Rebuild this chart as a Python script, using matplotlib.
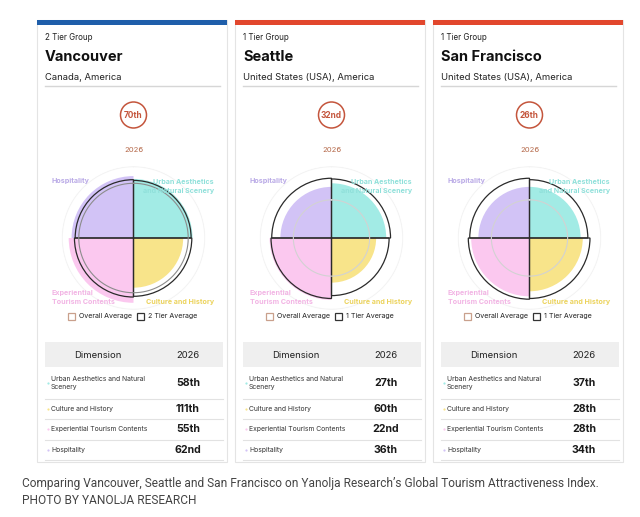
import matplotlib.pyplot as plt
import numpy as np
from matplotlib.patches import Rectangle, Circle

plt.rcParams['font.family'] = ['Inter', 'DejaVu Sans']

# ---- data ----
cities = ['Vancouver', 'Seattle', 'San Francisco']
countries = ['Canada, America', 'United States (USA), America', 'United States (USA), America']
tier_groups = ['2 Tier Group', '1 Tier Group', '1 Tier Group']
tier_avg_labels = ['2 Tier Average', '1 Tier Average', '1 Tier Average']
overall_ranks = ['70th', '32nd', '26th']
year = '2026'

dimensions = ['Urban Aesthetics and Natural Scenery', 'Culture and History',
              'Experiential Tourism Contents', 'Hospitality']
chart_labels = ['Urban Aesthetics\nand Natural Scenery', 'Culture and History',
                'Experiential\nTourism Contents', 'Hospitality']
table_labels = ['Urban Aesthetics and Natural\nScenery', 'Culture and History',
                'Experiential Tourism Contents', 'Hospitality']

# scores (0-100 scale)
vancouver_scores = [82, 69, 90, 86]
seattle_scores = [76, 62, 86, 71]
sanfrancisco_scores = [71, 74, 81, 71]
vancouver_tier_avg = [80, 81, 82, 81]
seattle_tier_avg = [82, 80, 84, 83]
sanfrancisco_tier_avg = [81, 84, 85, 83]
overall_avg = [76, 53, 53]

vancouver_ranks = ['58th', '111th', '55th', '62nd']
seattle_ranks = ['27th', '60th', '22nd', '36th']
sanfrancisco_ranks = ['37th', '28th', '28th', '34th']

scores = [vancouver_scores, seattle_scores, sanfrancisco_scores]
tier_avgs = [vancouver_tier_avg, seattle_tier_avg, sanfrancisco_tier_avg]
ranks = [vancouver_ranks, seattle_ranks, sanfrancisco_ranks]

# ---- style ----
fills = ['#a2ebe5', '#f8e48a', '#fbc8ef', '#d2c3f6']
label_colors = ['#8fe0da', '#ecd35c', '#f2b4e4', '#b9a9e6']
bar_colors = ['#1f5eaa', '#e2472d', '#e2472d']
accent = '#c4553c'

W, H = 640, 517
fig = plt.figure(figsize=(W / 100, H / 100), dpi=100)
bg = fig.add_axes([0, 0, 1, 1])
bg.set_xlim(0, W)
bg.set_ylim(H, 0)
bg.axis('off')


def put(x, y, s, **kw):
    kw.setdefault('color', '#222222')
    kw.setdefault('va', 'center')
    fig.text(x, y, s, transform=bg.transData, **kw)


card_x = [37, 235, 433]
card_w = 190
R = 72  # px for score 100

for i, x0 in enumerate(card_x):
    # card
    bg.add_patch(Rectangle((x0, 20), card_w, 442, facecolor='white', edgecolor='#e4e4e4', lw=0.8))
    bg.add_patch(Rectangle((x0, 20), card_w, 5, facecolor=bar_colors[i], edgecolor='none'))

    put(x0 + 8, 38, tier_groups[i], fontsize=5.8)
    put(x0 + 8, 57, cities[i], fontsize=10.5, fontweight='bold', color='#111111')
    put(x0 + 8, 77, countries[i], fontsize=6.8)
    bg.plot([x0 + 8, x0 + 183], [85.5, 85.5], color='#d6d6d6', lw=1)

    cx = x0 + 96.5
    bg.add_patch(Circle((cx, 115), 13, facecolor='white', edgecolor=accent, lw=1.1))
    put(cx, 115, overall_ranks[i], fontsize=6, fontweight='bold', color=accent, ha='center')
    put(cx, 150, year, fontsize=5.5, color='#b5694a', ha='center')

    # polar chart
    cy = 238
    pax = fig.add_axes([(cx - R) / W, (H - cy - R) / H, 2 * R / W, 2 * R / H], projection='polar')
    pax.set_theta_zero_location('N')
    pax.set_theta_direction(-1)
    pax.set_facecolor('none')
    theta = np.arange(4) * np.pi / 2
    ring = np.linspace(0, 2 * np.pi, 300)
    pax.plot(ring, np.full_like(ring, 99), color='#f3f3f3', lw=0.8)
    pax.bar(theta, scores[i], width=np.pi / 2, align='edge', color=fills, edgecolor='none')
    pax.plot(ring, np.full_like(ring, overall_avg[i]),
             color='#8c8c8c' if i == 0 else '#d2d2d2', lw=0.8)
    pax.bar(theta, tier_avgs[i], width=np.pi / 2, align='edge', fill=False,
            edgecolor='#2a2a2a', lw=0.9)
    pax.set_ylim(0, 100)
    pax.set_xticks([])
    pax.set_yticks([])
    pax.grid(False)
    pax.spines['polar'].set_visible(False)

    put(x0 + 15, 181, chart_labels[3], fontsize=5.1, color=label_colors[3], fontweight='bold')
    put(x0 + 177, 186, chart_labels[0], fontsize=5.1, color=label_colors[0], fontweight='bold',
        ha='right', linespacing=1.6)
    put(x0 + 15, 297, chart_labels[2], fontsize=5.1, color=label_colors[2], fontweight='bold',
        linespacing=1.6)
    put(x0 + 177, 302, chart_labels[1], fontsize=5.1, color=label_colors[1], fontweight='bold', ha='right')

    # legend
    bg.add_patch(Rectangle((x0 + 31, 312.5), 7, 7, facecolor='white', edgecolor='#c9a08c', lw=0.9))
    put(x0 + 42, 316, 'Overall Average', fontsize=5.1)
    bg.add_patch(Rectangle((x0 + 100, 312.5), 7, 7, facecolor='white', edgecolor='#333333', lw=0.9))
    put(x0 + 111, 316, tier_avg_labels[i], fontsize=5.1)

    # table
    bg.add_patch(Rectangle((x0 + 8, 342), 178, 25, facecolor='#efefef', edgecolor='none'))
    put(x0 + 61, 355, 'Dimension', fontsize=6.8, ha='center')
    put(x0 + 151, 355, year, fontsize=6.8, ha='center')
    row_y = [383, 409, 429, 450]
    for k in range(4):
        bg.plot(x0 + 10.5, row_y[k], 'o', ms=1.6, color=fills[k], mec='none')
        put(x0 + 14, row_y[k], table_labels[k], fontsize=4.9, color='#333333', linespacing=1.5)
        put(x0 + 151, row_y[k], ranks[i][k], fontsize=7.6, fontweight='bold', ha='center', color='#1a1a1a')
    for yy in [398.5, 418.5, 439.5, 459.5]:
        bg.plot([x0 + 8, x0 + 186], [yy, yy], color='#e2e2e2', lw=0.8)

put(22, 484, 'Comparing Vancouver, Seattle and San Francisco on Yanolja Research\u2019s '
    'Global Tourism Attractiveness Index.', fontsize=8.6, color='#444444', family=['Roboto', 'DejaVu Sans'])
put(22, 500, 'PHOTO BY YANOLJA RESEARCH', fontsize=8.6, color='#444444', family=['Roboto', 'DejaVu Sans'])

fig.savefig('out.png', dpi=100)
